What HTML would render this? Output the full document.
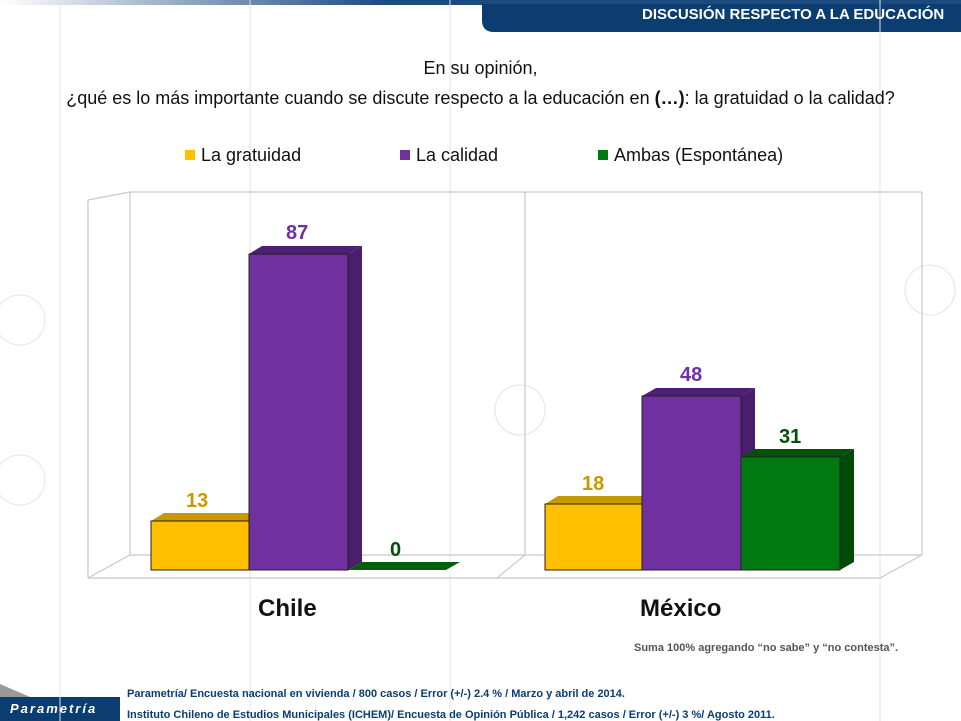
<!DOCTYPE html>
<html><head><meta charset="utf-8"><style>
body{margin:0;width:961px;height:721px;overflow:hidden;background:#fff;font-family:"Liberation Sans",sans-serif;position:relative}
.t{position:absolute;white-space:nowrap}
</style></head><body>
<svg width="961" height="721" style="position:absolute;left:0;top:0">
<defs><linearGradient id="tb" x1="0" x2="1"><stop offset="0" stop-color="#fff"/><stop offset="0.4" stop-color="#1c4a7e"/></linearGradient></defs>
<rect x="0" y="0" width="961" height="5" fill="url(#tb)"/>
<path d="M482 4 H961 V32 H494 Q482 32 482 20 Z" fill="#0b3d70"/>
<path d="M0 697 H120 V721 H0 Z" fill="#0b3d70"/>
<path d="M0 684 L30 697 L0 697Z" fill="#999"/>
<!-- faint background grid -->
<g stroke="#dde3ec" stroke-width="1" fill="none">
<line x1="60" y1="0" x2="60" y2="721"/><line x1="250" y1="0" x2="250" y2="721"/><line x1="450" y1="0" x2="450" y2="721"/><line x1="880" y1="0" x2="880" y2="721"/>
<circle cx="20" cy="320" r="25"/><circle cx="20" cy="480" r="25"/><circle cx="930" cy="290" r="25"/><circle cx="520" cy="410" r="25"/>
</g>
<!-- 3D frame -->
<g stroke="#c8c8c8" fill="none" stroke-width="1.2">
<line x1="130" y1="192" x2="130" y2="555"/><line x1="88" y1="200" x2="88" y2="578"/>
<line x1="88" y1="200" x2="130" y2="192"/><line x1="130" y1="192" x2="922" y2="192"/>
<line x1="922" y1="192" x2="922" y2="555"/>
<line x1="130" y1="555" x2="922" y2="555"/><line x1="88" y1="578" x2="880" y2="578"/>
<line x1="88" y1="578" x2="130" y2="555"/><line x1="880" y1="578" x2="922" y2="555"/>
<line x1="525" y1="192" x2="525" y2="555"/><line x1="525" y1="555" x2="497" y2="578"/>
</g>
<!-- bars: front, side, top -->
<g>
<rect x="151" y="521" width="98" height="49" fill="#ffc000"/><path d="M151 521 L164 513 L262 513 L249 521Z" fill="#c99700"/>
<rect x="249" y="254" width="99" height="316" fill="#7030a0"/><path d="M249 254 L262 246 L362 246 L348 254Z" fill="#4e1f73"/><path d="M348 254 L362 246 L362 562 L348 570Z" fill="#4a1d6d"/>
<path d="M348 570 L362 562 L460 562 L446 570Z" fill="#00600a"/>
<rect x="545" y="504" width="97" height="66" fill="#ffc000"/><path d="M545 504 L558 496 L656 496 L642 504Z" fill="#c99700"/>
<rect x="642" y="396" width="99" height="174" fill="#7030a0"/><path d="M642 396 L656 388 L755 388 L741 396Z" fill="#4e1f73"/><path d="M741 396 L755 388 L755 457 L741 457Z" fill="#4a1d6d"/>
<rect x="741" y="457" width="99" height="113" fill="#007a10"/><path d="M741 457 L755 449 L854 449 L840 457Z" fill="#005208"/><path d="M840 457 L854 449 L854 562 L840 570Z" fill="#004a07"/>
</g>
<g stroke="#222" stroke-width="1" fill="none"><rect x="151" y="521" width="98" height="49"/><rect x="249" y="254" width="99" height="316"/><rect x="545" y="504" width="97" height="66"/><rect x="642" y="396" width="99" height="174"/><rect x="741" y="457" width="99" height="113"/></g>
<rect x="185" y="150" width="10" height="10" fill="#ffc000"/>
<rect x="400" y="150" width="10" height="10" fill="#7030a0"/>
<rect x="598" y="150" width="10" height="10" fill="#007a10"/>
</svg>
<div class="t" style="left:642px;top:6px;font-size:15px;font-weight:bold;color:#fff">DISCUSIÓN RESPECTO A LA EDUCACIÓN</div>
<div class="t" style="left:0;width:961px;text-align:center;top:58px;font-size:18px;color:#111">En su opinión,</div>
<div class="t" style="left:0;width:961px;text-align:center;top:88px;font-size:18px;color:#111">¿qué es lo más importante cuando se discute respecto a la educación en <b>(…)</b>: la gratuidad o la calidad?</div>
<div class="t" style="left:201px;top:145px;font-size:18px;color:#111">La gratuidad</div>
<div class="t" style="left:416px;top:145px;font-size:18px;color:#111">La calidad</div>
<div class="t" style="left:614px;top:145px;font-size:18px;color:#111">Ambas (Espontánea)</div>
<div class="t" style="left:186px;top:490px;font-size:20px;font-weight:bold;color:#c99700">13</div>
<div class="t" style="left:286px;top:222px;font-size:20px;font-weight:bold;color:#7030a0">87</div>
<div class="t" style="left:390px;top:539px;font-size:20px;font-weight:bold;color:#005208">0</div>
<div class="t" style="left:582px;top:473px;font-size:20px;font-weight:bold;color:#c99700">18</div>
<div class="t" style="left:680px;top:364px;font-size:20px;font-weight:bold;color:#7030a0">48</div>
<div class="t" style="left:779px;top:426px;font-size:20px;font-weight:bold;color:#005208">31</div>
<div class="t" style="left:258px;top:595px;font-size:24px;font-weight:bold;color:#111">Chile</div>
<div class="t" style="left:640px;top:595px;font-size:24px;font-weight:bold;color:#111">México</div>
<div class="t" style="left:634px;top:642px;font-size:11px;font-weight:bold;color:#555">Suma 100% agregando “no sabe” y “no contesta”.</div>
<div class="t" style="left:127px;top:688px;font-size:11px;font-weight:bold;color:#0b3d70">Parametría/ Encuesta nacional en vivienda / 800 casos / Error (+/-) 2.4 % / Marzo y abril de 2014.</div>
<div class="t" style="left:127px;top:709px;font-size:11px;font-weight:bold;color:#0b3d70">Instituto Chileno de Estudios Municipales (ICHEM)/ Encuesta de Opinión Pública / 1,242 casos / Error (+/-) 3 %/ Agosto 2011.</div>
<div class="t" style="left:10px;top:701px;font-size:13px;font-style:italic;font-weight:bold;letter-spacing:2px;color:#fff">Parametría</div>
</body></html>
